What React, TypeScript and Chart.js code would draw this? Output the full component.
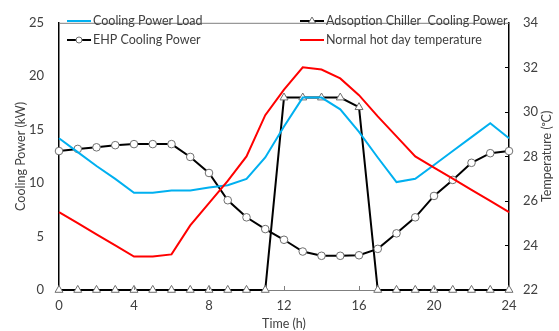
import React, { useEffect, useRef } from 'react';
import { Chart, registerables } from 'chart.js';

Chart.register(...registerables);

// ---- data ----
const hours = [0, 1, 2, 3, 4, 5, 6, 7, 8, 9, 10, 11, 12, 13, 14, 15, 16, 17, 18, 19, 20, 21, 22, 23, 24];
const coolingLoad = [14.2, 12.9, 11.6, 10.4, 9.1, 9.1, 9.3, 9.3, 9.6, 9.8, 10.4, 12.4, 15.3, 18.0, 18.0, 16.9, 14.8, 12.4, 10.1, 10.4, 11.7, 13.0, 14.3, 15.6, 14.2];
const ehpPower = [13.0, 13.2, 13.35, 13.55, 13.65, 13.65, 13.65, 12.45, 10.95, 8.4, 6.8, 5.7, 4.7, 3.6, 3.2, 3.2, 3.25, 3.85, 5.3, 6.8, 8.8, 10.3, 11.9, 12.8, 13.0];
const adsorptionPower = [0, 0, 0, 0, 0, 0, 0, 0, 0, 0, 0, 0, 18, 18, 18, 18, 17.1, 0, 0, 0, 0, 0, 0, 0, 0];
const temperature = [25.5, 25.0, 24.5, 24.0, 23.5, 23.5, 23.6, 24.9, 25.9, 26.9, 28.0, 29.85, 31.0, 32.0, 31.9, 31.5, 30.75, 29.8, 28.9, 28.0, 27.5, 27.0, 26.5, 26.0, 25.5];
const xTicks = [0, 4, 8, 12, 16, 20, 24];
const leftTicks = [0, 5, 10, 15, 20, 25];
const rightTicks = [22, 24, 26, 28, 30, 32, 34];

const labels = {
  load: 'Cooling Power Load',
  ads: 'Adsoption Chiller  Cooling Power',
  ehp: 'EHP Cooling Power',
  temp: 'Normal hot day temperature',
  x: 'Time (h)',
  yLeft: 'Cooling Power (kW)',
  yRight: 'Temperature (\u1D52C)',
};

const BLUE = '#00B0F0';
const RED = '#FF0000';
const BLACK = '#000000';
const TEXT = '#404040';
const FONT = 'Lato, "Open Sans", sans-serif';
const MARKER_BORDER = '#6e6e6e';

const toXY = (arr: number[]) => arr.map((v, i) => ({ x: hours[i], y: v }));

const framePlugin = {
  id: 'frameAndLegend',
  afterDatasetsDraw(chart: any) {
    const { ctx, chartArea } = chart;
    const { left, right, top, bottom } = chartArea;
    ctx.save();
    // top border
    ctx.strokeStyle = '#7f7f7f';
    ctx.lineWidth = 1;
    ctx.beginPath();
    ctx.moveTo(left, top + 0.5);
    ctx.lineTo(right, top + 0.5);
    ctx.stroke();
    // inward tick marks on x axis
    const xs = chart.scales.x;
    ctx.strokeStyle = '#7f7f7f';
    xTicks.forEach((t) => {
      if (t === xs.min || t === xs.max) return;
      const px = Math.round(xs.getPixelForValue(t)) + 0.5;
      ctx.beginPath();
      ctx.moveTo(px, bottom);
      ctx.lineTo(px, bottom - 4);
      ctx.stroke();
    });
    // inward ticks on right axis
    const yr = chart.scales.y1;
    ctx.strokeStyle = '#000';
    rightTicks.forEach((t) => {
      if (t === yr.min || t === yr.max) return;
      const py = Math.round(yr.getPixelForValue(t)) + 0.5;
      ctx.beginPath();
      ctx.moveTo(right, py);
      ctx.lineTo(right - 4, py);
      ctx.stroke();
    });
    ctx.restore();
  },
  afterDraw(chart: any) {
    const { ctx, chartArea } = chart;
    const ds = chart.data.datasets;
    const items = [
      { d: ds[1], x: 67, y: 21 },
      { d: ds[3], x: 300, y: 21 },
      { d: ds[2], x: 67, y: 40 },
      { d: ds[0], x: 300, y: 40 },
    ];
    ctx.save();
    ctx.font = '12.5px ' + FONT;
    ctx.textBaseline = 'middle';
    ctx.textAlign = 'left';
    items.forEach(({ d, x, y }) => {
      ctx.strokeStyle = d.borderColor;
      ctx.lineWidth = 2;
      ctx.beginPath();
      ctx.moveTo(x, y);
      ctx.lineTo(x + 24, y);
      ctx.stroke();
      if (d.pointRadius > 0) {
        ctx.fillStyle = '#fff';
        ctx.strokeStyle = MARKER_BORDER;
        ctx.lineWidth = 1;
        const cx = x + 12;
        if (d.pointStyle === 'circle') {
          ctx.beginPath();
          ctx.arc(cx, y, 3, 0, Math.PI * 2);
          ctx.fill();
          ctx.stroke();
        } else {
          const r = 4;
          ctx.beginPath();
          ctx.moveTo(cx, y - r);
          ctx.lineTo(cx + r * 0.866, y + r / 2);
          ctx.lineTo(cx - r * 0.866, y + r / 2);
          ctx.closePath();
          ctx.fill();
          ctx.stroke();
        }
      }
      ctx.fillStyle = TEXT;
      ctx.fillText(d.label, x + 26, y);
    });
    // right axis title, reading bottom-to-top
    ctx.translate(547, (chartArea.top + chartArea.bottom) / 2);
    ctx.rotate(-Math.PI / 2);
    ctx.textAlign = 'center';
    ctx.font = '12.5px ' + FONT;
    ctx.fillText(labels.yRight, 0, 0);
    ctx.restore();
  },
};

export default function App() {
  const ref = useRef<HTMLCanvasElement>(null);
  useEffect(() => {
    document.body.style.margin = '0';
    const canvas = ref.current!;
    const tickFont = { family: FONT, size: 13 };
    const titleFont = { family: FONT, size: 12.5 };
    const chart = new Chart(canvas, {
      type: 'line',
      data: {
        datasets: [
          {
            label: labels.temp,
            data: toXY(temperature),
            yAxisID: 'y1',
            borderColor: RED,
            backgroundColor: RED,
            borderWidth: 2,
            pointRadius: 0,
            tension: 0,
            clip: false,
          },
          {
            label: labels.load,
            data: toXY(coolingLoad),
            yAxisID: 'y',
            borderColor: BLUE,
            backgroundColor: BLUE,
            borderWidth: 2,
            pointRadius: 0,
            tension: 0,
            clip: false,
          },
          {
            label: labels.ehp,
            data: toXY(ehpPower),
            yAxisID: 'y',
            borderColor: BLACK,
            backgroundColor: '#fff',
            borderWidth: 2,
            pointStyle: 'circle',
            pointRadius: 3.8,
            pointBorderColor: MARKER_BORDER,
            pointBackgroundColor: '#fff',
            pointBorderWidth: 1,
            tension: 0,
            clip: false,
          },
          {
            label: labels.ads,
            data: toXY(adsorptionPower),
            yAxisID: 'y',
            borderColor: BLACK,
            backgroundColor: '#fff',
            borderWidth: 2,
            pointStyle: 'triangle',
            pointRadius: 4.6,
            pointBorderColor: MARKER_BORDER,
            pointBackgroundColor: '#fff',
            pointBorderWidth: 1,
            tension: 0,
            clip: false,
          },
        ] as any,
      },
      options: {
        responsive: false,
        animation: false,
        events: [],
        layout: { padding: { top: 9, left: 0, right: 0, bottom: 0 } },
        plugins: { legend: { display: false }, tooltip: { enabled: false } },
        scales: {
          x: {
            type: 'linear',
            min: 0,
            max: 24,
            afterBuildTicks: (s: any) => { s.ticks = xTicks.map((v) => ({ value: v })); },
            ticks: { color: TEXT, font: tickFont, padding: 8, maxRotation: 0 },
            grid: { display: false, drawTicks: false },
            border: { display: true, color: '#7f7f7f', width: 1 },
            title: { display: true, text: labels.x, color: TEXT, font: titleFont, padding: { top: 0, bottom: 0 } },
            afterFit: (s: any) => { s.height = 41; },
          },
          y: {
            type: 'linear',
            position: 'left',
            min: 0,
            max: 25,
            afterBuildTicks: (s: any) => { s.ticks = leftTicks.map((v) => ({ value: v })); },
            ticks: { color: TEXT, font: tickFont, padding: 15 },
            grid: { display: false, drawTicks: false },
            border: { display: true, color: '#000', width: 1.5 },
            title: { display: true, text: labels.yLeft, color: TEXT, font: titleFont, padding: { top: 13, bottom: 0 } },
            afterFit: (s: any) => { s.width = 59; },
          },
          y1: {
            type: 'linear',
            position: 'right',
            min: 22,
            max: 34,
            afterBuildTicks: (s: any) => { s.ticks = rightTicks.map((v) => ({ value: v })); },
            ticks: { color: TEXT, font: tickFont, padding: 14 },
            grid: { display: false, drawTicks: false },
            border: { display: true, color: '#000', width: 1.5 },
            title: { display: false },
            afterFit: (s: any) => { s.width = 50; },
          },
        },
      } as any,
      plugins: [framePlugin],
    });
    return () => chart.destroy();
  }, []);
  return <canvas ref={ref} width={559} height={331} style={{ display: 'block' }} />;
}
